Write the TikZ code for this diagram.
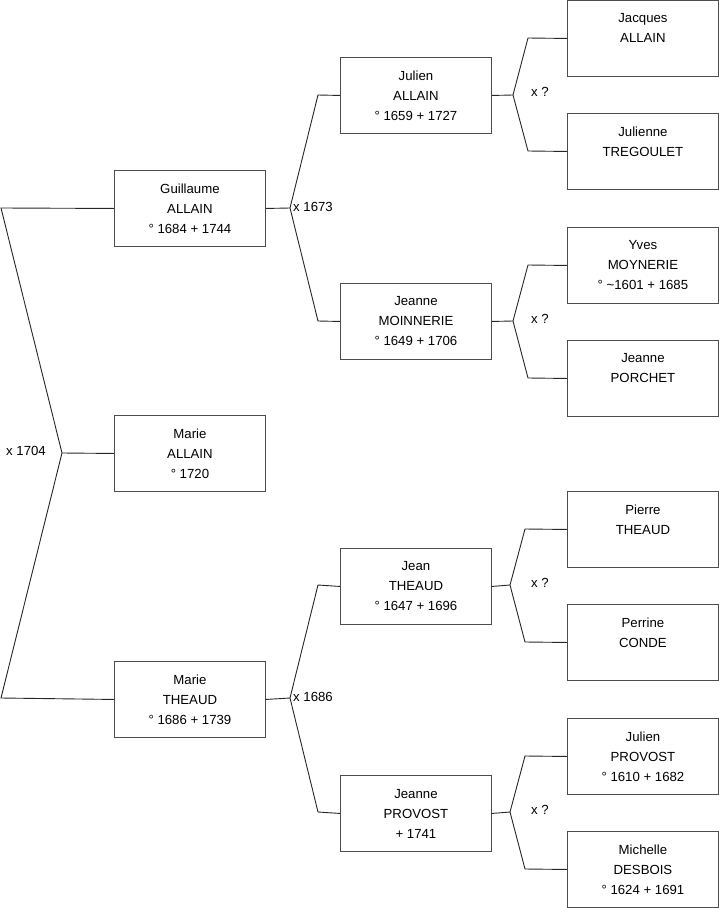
\documentclass[tikz,border=0pt]{standalone}
\usepackage{fontspec}
\setmainfont{Liberation Sans}
\begin{document}
\begin{tikzpicture}[x=1pt,y=-1pt,
  person/.style={draw=black!70,line width=0.9pt,minimum width=151pt,minimum height=76pt,inner sep=0pt,align=center,anchor=north west,font=\fontsize{13.2}{20}\selectfont},
  link/.style={draw=black!85,line width=0.9pt},
  lbl/.style={font=\fontsize{13.2}{15}\selectfont,inner sep=0pt}]
\useasboundingbox (0,0) rectangle (719,908);
% column 1
\node[person] (g) at (114,170) {Guillaume\\ALLAIN\\° 1684 + 1744};
\node[person] (ma) at (114,415) {Marie\\ALLAIN\\° 1720};
\node[person] (mt) at (114,661) {Marie\\THEAUD\\° 1686 + 1739};
% column 2
\node[person] (ju) at (340,57) {Julien\\ALLAIN\\° 1659 + 1727};
\node[person] (jm) at (340,283) {Jeanne\\MOINNERIE\\° 1649 + 1706};
\node[person] (je) at (340,548) {Jean\\THEAUD\\° 1647 + 1696};
\node[person] (jp) at (340,775) {Jeanne\\PROVOST\\+ 1741};
% column 3
\node[person] (ja) at (567,0) {Jacques\\ALLAIN\\\mbox{}};
\node[person] (jt) at (567,113) {Julienne\\TREGOULET\\\mbox{}};
\node[person] (ym) at (567,227) {Yves\\MOYNERIE\\° \textasciitilde1601 + 1685};
\node[person] (jpo) at (567,340) {Jeanne\\PORCHET\\\mbox{}};
\node[person] (pt) at (567,491) {Pierre\\THEAUD\\\mbox{}};
\node[person] (pc) at (567,604) {Perrine\\CONDE\\\mbox{}};
\node[person] (jpr) at (567,718) {Julien\\PROVOST\\° 1610 + 1682};
\node[person] (md) at (567,831) {Michelle\\DESBOIS\\° 1624 + 1691};
% junction coordinates
\coordinate (tl) at (1,208);
\coordinate (k1) at (62,453);
\coordinate (bl) at (1,698);
\coordinate (k2) at (290,208);
\coordinate (k2a) at (318,95);
\coordinate (k2b) at (318,321);
\coordinate (k3) at (290,698);
\coordinate (k3a) at (318,585);
\coordinate (k3b) at (318,812);
\coordinate (k4) at (513,95);
\coordinate (k4a) at (528,38);
\coordinate (k4b) at (528,151);
\coordinate (k5) at (513,321);
\coordinate (k5a) at (528,265);
\coordinate (k5b) at (528,378);
\coordinate (k6) at (510,585);
\coordinate (k6a) at (525,529);
\coordinate (k6b) at (525,642);
\coordinate (k7) at (510,812);
\coordinate (k7a) at (525,756);
\coordinate (k7b) at (525,869);
% connectors
\draw[link] (g.west) -- (tl) -- (k1) -- (bl) -- (mt.west);
\draw[link] (k1) -- (ma.west);
\draw[link] (g.east) -- (k2);
\draw[link] (ju.west) -- (k2a) -- (k2) -- (k2b) -- (jm.west);
\draw[link] (mt.east) -- (k3);
\draw[link] (je.west) -- (k3a) -- (k3) -- (k3b) -- (jp.west);
\draw[link] (ju.east) -- (k4);
\draw[link] (ja.west) -- (k4a) -- (k4) -- (k4b) -- (jt.west);
\draw[link] (jm.east) -- (k5);
\draw[link] (ym.west) -- (k5a) -- (k5) -- (k5b) -- (jpo.west);
\draw[link] (je.east) -- (k6);
\draw[link] (pt.west) -- (k6a) -- (k6) -- (k6b) -- (pc.west);
\draw[link] (jp.east) -- (k7);
\draw[link] (jpr.west) -- (k7a) -- (k7) -- (k7b) -- (md.west);
% labels
\node[lbl] (l1) at (26,451) {x 1704};
\node[lbl,anchor=west] (l2) at (293,207) {x 1673};
\node[lbl,anchor=west] (l3) at (293,697) {x 1686};
\node[lbl] (l4) at (540,92) {x ?};
\node[lbl] (l5) at (540,319) {x ?};
\node[lbl] (l6) at (540,583) {x ?};
\node[lbl] (l7) at (540,810) {x ?};
\end{tikzpicture}
\end{document}
